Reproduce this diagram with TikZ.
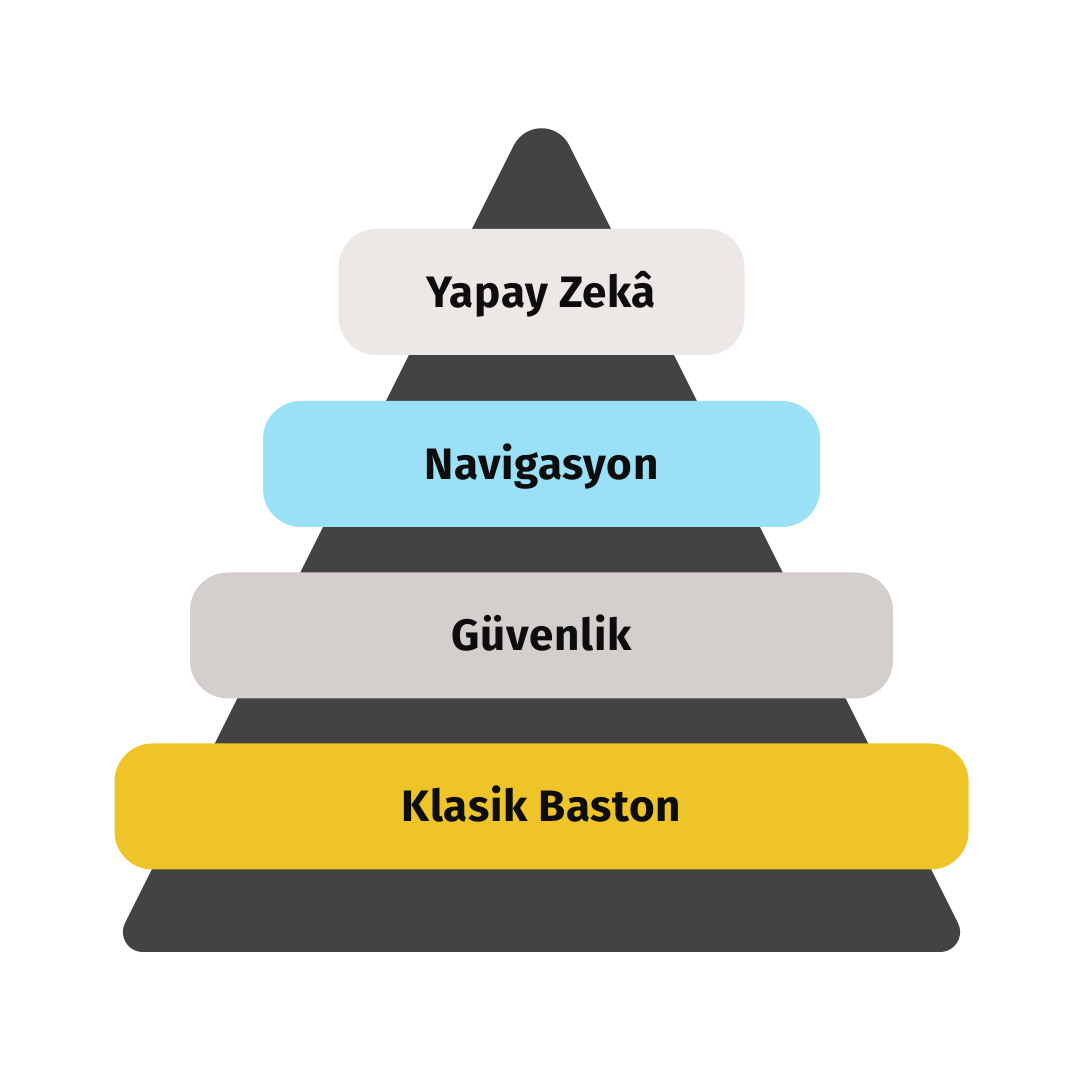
\documentclass[tikz,border=0pt]{standalone}
\usepackage{fontspec}
\newfontfamily\lblfont{Fira Sans}[BoldFont={Fira Sans Bold}, LetterSpace=1.5]
\definecolor{tri}{HTML}{434343}
\definecolor{cA}{HTML}{EDE8E6}
\definecolor{cB}{HTML}{9AE1F7}
\definecolor{cC}{HTML}{D4CFCD}
\definecolor{cD}{HTML}{EEC428}
\definecolor{txt}{HTML}{0D0D0D}
\begin{document}
\begin{tikzpicture}[x=1pt,y=1pt,
  tier/.style={rectangle, rounded corners=38pt, minimum height=126pt, inner sep=0pt,
    font=\lblfont\bfseries\fontsize{44}{50}\selectfont, text=txt,
    text height=30.5pt, text depth=0pt, anchor=center}]
\fill[white] (0,0) rectangle (1080,1080);
\useasboundingbox (0,0) rectangle (1080,1080);
% pyramid
\fill[tri] (142.9,128) -- (940.1,128)
  arc[start angle=-90, end angle=26.57, radius=20]
  -- (569.2,934.6)
  arc[start angle=26.57, end angle=153.43, radius=31]
  -- (125.0,156.9)
  arc[start angle=153.43, end angle=270, radius=20] -- cycle;
% tiers
\node[tier, fill=cA, minimum width=406pt] (ai) at (541.5,788) {Yapay Zekâ};
\node[tier, fill=cB, minimum width=557pt] (nav) at (541.5,616) {Navigasyon};
\node[tier, fill=cC, minimum width=703pt] (sec) at (541.5,444.5) {Güvenlik};
\node[tier, fill=cD, minimum width=854pt] (cane) at (541.5,273.5) {Klasik Baston};
\end{tikzpicture}
\end{document}
